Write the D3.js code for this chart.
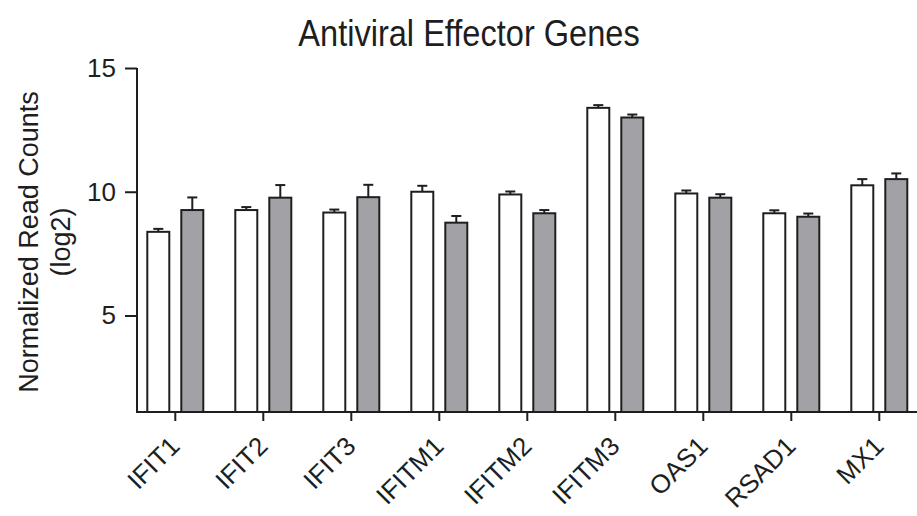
<!DOCTYPE html>
<html>
<head>
<meta charset="utf-8">
<script src="https://cdn.jsdelivr.net/npm/d3@7"></script>
<style>
  html, body { margin: 0; padding: 0; background: #fff; }
  svg { display: block; font-family: "Liberation Sans", Arial, Helvetica, sans-serif; }
</style>
</head>
<body>
<svg id="chart" width="917" height="516"></svg>
<script>
// Gene names along the x axis
const genes = ["IFIT1", "IFIT2", "IFIT3", "IFITM1", "IFITM2", "IFITM3", "OAS1", "RSAD1", "MX1"];
// Mean normalized read counts (log2) for the two conditions
const openMeans = [8.38, 9.26, 9.16, 10.0, 9.89, 13.39, 9.93, 9.13, 10.26];
const filledMeans = [9.26, 9.76, 9.78, 8.75, 9.13, 13.0, 9.76, 8.99, 10.51];
// Error bar sizes (upper half only)
const openErr = [0.12, 0.12, 0.12, 0.24, 0.12, 0.11, 0.12, 0.12, 0.25];
const filledErr = [0.51, 0.51, 0.5, 0.27, 0.13, 0.12, 0.14, 0.13, 0.23];
// Y axis ticks
const yTicks = [5, 10, 15];

const svg = d3.select("#chart");
const ink = "#1e1e1e";

const x = d3.scaleBand().domain(genes).range([131.3, 923.3]).padding(0);
const y = d3.scaleLinear().domain([1.1, 15]).range([412, 68]);

const barW = 22;
const innerGap = 12;

// Bars
const groups = svg.append("g").selectAll("g")
  .data(genes.map((g, i) => ({ g, a: openMeans[i], b: filledMeans[i], ea: openErr[i], eb: filledErr[i] })))
  .join("g")
  .attr("transform", d => `translate(${x(d.g) + x.bandwidth() / 2},0)`);

function drawBar(sel, xOff, valKey, errKey, fill) {
  // error bar (upward only)
  sel.append("line")
    .attr("x1", xOff + barW / 2).attr("x2", xOff + barW / 2)
    .attr("y1", d => y(d[valKey])).attr("y2", d => y(d[valKey] + d[errKey]))
    .attr("stroke", ink).attr("stroke-width", 2);
  sel.append("line")
    .attr("x1", xOff + barW / 2 - 5).attr("x2", xOff + barW / 2 + 5)
    .attr("y1", d => y(d[valKey] + d[errKey])).attr("y2", d => y(d[valKey] + d[errKey]))
    .attr("stroke", ink).attr("stroke-width", 2);
  sel.append("rect")
    .attr("x", xOff).attr("width", barW)
    .attr("y", d => y(d[valKey])).attr("height", d => y.range()[0] - y(d[valKey]))
    .attr("fill", fill).attr("stroke", ink).attr("stroke-width", 2);
}
drawBar(groups, -innerGap / 2 - barW, "a", "ea", "#ffffff");
drawBar(groups, innerGap / 2, "b", "eb", "#a2a2a6");

// Y axis
const yAxis = d3.axisLeft(y).tickValues(yTicks).tickSize(12).tickPadding(9).tickSizeOuter(0);
const gy = svg.append("g").attr("transform", "translate(137,0)").call(yAxis);
gy.select(".domain").attr("stroke", ink).attr("stroke-width", 2).attr("d", `M0,${y(15)}V${y.range()[0]}`);
gy.selectAll(".tick line").attr("stroke", ink).attr("stroke-width", 2);
gy.selectAll(".tick text").attr("fill", ink).style("font-size", "26px")
  .style("font-family", "'Liberation Sans', Arial, sans-serif");

// X axis
const xAxis = d3.axisBottom(x).tickSize(9).tickSizeOuter(0).tickFormat("");
const gx = svg.append("g").attr("transform", `translate(0,${y.range()[0]})`).call(xAxis);
gx.select(".domain").attr("stroke", ink).attr("stroke-width", 2).attr("d", "M136,0H917");
gx.selectAll(".tick line").attr("stroke", ink).attr("stroke-width", 2);

// Rotated gene labels
svg.append("g").selectAll("text")
  .data(genes)
  .join("text")
  .attr("transform", d => `translate(${x(d) + x.bandwidth() / 2 + 1},${443}) rotate(-45)`)
  .attr("text-anchor", "end")
  .attr("dominant-baseline", "middle")
  .attr("fill", ink)
  .style("font-size", "26px")
  .text(d => d);

// Y axis title
const yt = svg.append("text")
  .attr("transform", "translate(46,242) rotate(-90)")
  .attr("text-anchor", "middle")
  .attr("fill", ink)
  .style("font-size", "27px");
yt.append("tspan").attr("x", 0).attr("dy", "-0.3em").text("Normalized Read Counts");
yt.append("tspan").attr("x", 0).attr("dy", "1.2em").text("(log2)");

// Title (slightly condensed face)
svg.append("text")
  .attr("transform", "translate(469,46) scale(0.88,1)")
  .attr("text-anchor", "middle")
  .attr("fill", ink)
  .style("font-size", "37px")
  .text("Antiviral Effector Genes");
</script>
</body>
</html>
